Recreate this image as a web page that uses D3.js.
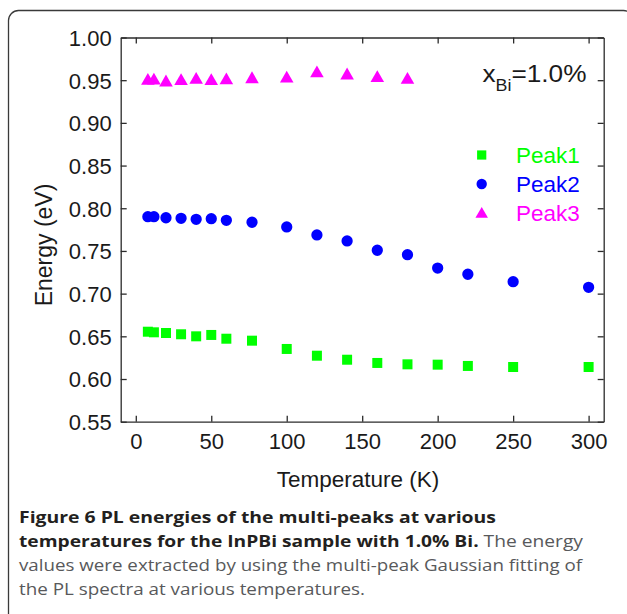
<!DOCTYPE html>
<html>
<head>
<meta charset="utf-8">
<script src="https://cdn.jsdelivr.net/npm/d3@7"></script>
<style>
  html, body { margin: 0; padding: 0; background: #fff; }
  svg { display: block; }
</style>
</head>
<body>
<svg id="chart" width="627" height="614"></svg>
<script>
// ---- data ----
const temps = [8, 12, 20, 30, 40, 50, 60, 77, 100, 120, 140, 160, 180, 200, 220, 250, 300];
const peak1 = [0.6554, 0.6547, 0.6539, 0.6524, 0.6500, 0.6516, 0.6472, 0.6449, 0.6352, 0.6273, 0.6226, 0.6188, 0.6172, 0.6168, 0.6153, 0.6141, 0.6141];
const peak2 = [0.7901, 0.7901, 0.7889, 0.7882, 0.7871, 0.7878, 0.7859, 0.7836, 0.7781, 0.7687, 0.7617, 0.7508, 0.7456, 0.7300, 0.7227, 0.7140, 0.7074];
const temps3 = [8, 12, 20, 30, 40, 50, 60, 77, 100, 120, 140, 160, 180];
const peak3 = [0.9510, 0.9514, 0.9491, 0.9506, 0.9522, 0.9506, 0.9517, 0.9529, 0.9537, 0.9599, 0.9573, 0.9541, 0.9522];
const xTicks = [0, 50, 100, 150, 200, 250, 300];
const yTicks = [0.55, 0.60, 0.65, 0.70, 0.75, 0.80, 0.85, 0.90, 0.95, 1.00];
const seriesNames = ["Peak1", "Peak2", "Peak3"];
const seriesColors = ["#00ff00", "#0000ff", "#ff00ff"];
const seriesSymbols = [d3.symbolSquare, d3.symbolCircle, d3.symbolTriangle];
const captionBold1 = "Figure 6 PL energies of the multi-peaks at various";
const captionBold2 = "temperatures for the InPBi sample with 1.0% Bi.";
const captionReg2 = " The energy";
const captionReg3 = "values were extracted by using the multi-peak Gaussian fitting of";
const captionReg4 = "the PL spectra at various temperatures.";

// ---- layout ----
const svg = d3.select("#chart");
const L = 120.7, R = 603.7, T = 37.5, B = 421.7;
const axisColor = "#2b2b2b";
const font = "'Liberation Sans', Arial, sans-serif";

const x = d3.scaleLinear().domain([-10, 310]).range([L, R]);
const y = d3.scaleLinear().domain([0.55, 1.00]).range([B, T]);

// outer rounded frame
svg.append("rect")
  .attr("x", 8.5).attr("y", 10.5)
  .attr("width", 625).attr("height", 640)
  .attr("rx", 10).attr("ry", 10)
  .attr("fill", "none").attr("stroke", "#3a3a3a").attr("stroke-width", 1.3);

// axes
function styleAxis(g) {
  g.select(".domain").attr("stroke", axisColor).attr("stroke-width", 1.3);
  g.selectAll(".tick line").attr("stroke", axisColor).attr("stroke-width", 1.3);
  g.selectAll("text").attr("fill", "#1a1a1a").style("font-family", font).style("font-size", "22px");
}

const gx = svg.append("g").attr("transform", `translate(0,${B})`)
  .call(d3.axisBottom(x).tickValues(xTicks).tickSizeInner(-6).tickSizeOuter(0).tickPadding(12).tickFormat(d3.format("d")));
styleAxis(gx);

const gxt = svg.append("g").attr("transform", `translate(0,${T})`)
  .call(d3.axisTop(x).tickValues(xTicks).tickSizeInner(-6).tickSizeOuter(0).tickFormat(""));
styleAxis(gxt);

const gy = svg.append("g").attr("transform", `translate(${L},0)`)
  .call(d3.axisLeft(y).tickValues(yTicks).tickSizeInner(-6).tickSizeOuter(0).tickPadding(9).tickFormat(d3.format(".2f")));
styleAxis(gy);
gy.selectAll("text").attr("dy", "0.36em");

const gyr = svg.append("g").attr("transform", `translate(${R},0)`)
  .call(d3.axisRight(y).tickValues(yTicks).tickSizeInner(-6).tickSizeOuter(0).tickFormat(""));
styleAxis(gyr);

// axis titles
svg.append("text")
  .attr("x", 358).attr("y", 487)
  .attr("text-anchor", "middle")
  .style("font-family", font).style("font-size", "22.5px").attr("fill", "#1a1a1a")
  .text("Temperature (K)");

svg.append("text")
  .attr("transform", `translate(52,245) rotate(-90)`)
  .attr("text-anchor", "middle")
  .style("font-family", font).style("font-size", "23px").attr("fill", "#1a1a1a")
  .text("Energy (eV)");

// data markers
const series = [
  { xs: temps, ys: peak1 },
  { xs: temps, ys: peak2 },
  { xs: temps3, ys: peak3 }
];
const symSizes = [100, 100, 80];

series.forEach((s, i) => {
  const sym = d3.symbol().type(seriesSymbols[i]).size(symSizes[i]);
  const pts = s.xs.map((t, k) => [t, s.ys[k]]);
  svg.append("g").selectAll("path").data(pts).join("path")
    .attr("d", sym)
    .attr("transform", d => `translate(${x(d[0])},${y(d[1]) + (i === 2 ? 1.5 : 0)})`)
    .attr("fill", seriesColors[i]);
});

// legend
const legY = [155, 184, 212.7];
seriesNames.forEach((name, i) => {
  const sym = d3.symbol().type(seriesSymbols[i]).size(symSizes[i] * 0.85);
  svg.append("path").attr("d", sym)
    .attr("transform", `translate(481.7,${legY[i] + (i === 2 ? 1.5 : 0)})`)
    .attr("fill", seriesColors[i]);
  svg.append("text")
    .attr("x", 516).attr("y", legY[i] + 8)
    .style("font-family", font).style("font-size", "22.5px")
    .attr("fill", seriesColors[i])
    .text(name);
});

// x_Bi annotation
const ann = svg.append("text").attr("x", 482.5).attr("y", 81.7)
  .style("font-family", font).style("font-size", "23.5px").attr("fill", "#1a1a1a")
  .attr("textLength", 104).attr("lengthAdjust", "spacingAndGlyphs");
ann.append("tspan").text("x");
ann.append("tspan").attr("dy", 9).style("font-size", "16px").text("Bi");
ann.append("tspan").attr("dy", -9).text("=1.0%");

// caption
const capFont = "'Open Sans', 'Noto Sans', sans-serif";
const capX = 19;
const capSize = "16.5px";
const boldColor = "#231f20";
const regColor = "#58595b";

const c1 = svg.append("text").attr("x", capX).attr("y", 523)
  .style("font-family", capFont).style("font-size", capSize)
  .attr("textLength", 477).attr("lengthAdjust", "spacingAndGlyphs");
c1.append("tspan").attr("font-weight", "bold").attr("fill", boldColor).text(captionBold1);

const c2 = svg.append("text").attr("x", capX).attr("y", 547)
  .style("font-family", capFont).style("font-size", capSize)
  .attr("textLength", 564).attr("lengthAdjust", "spacingAndGlyphs");
c2.append("tspan").attr("font-weight", "bold").attr("fill", boldColor).text(captionBold2);
c2.append("tspan").attr("fill", regColor).text(captionReg2);

svg.append("text").attr("x", capX).attr("y", 571)
  .style("font-family", capFont).style("font-size", capSize).attr("fill", regColor)
  .attr("textLength", 563).attr("lengthAdjust", "spacingAndGlyphs")
  .text(captionReg3);

svg.append("text").attr("x", capX).attr("y", 595)
  .style("font-family", capFont).style("font-size", capSize).attr("fill", regColor)
  .attr("textLength", 346).attr("lengthAdjust", "spacingAndGlyphs")
  .text(captionReg4);
</script>
</body>
</html>
